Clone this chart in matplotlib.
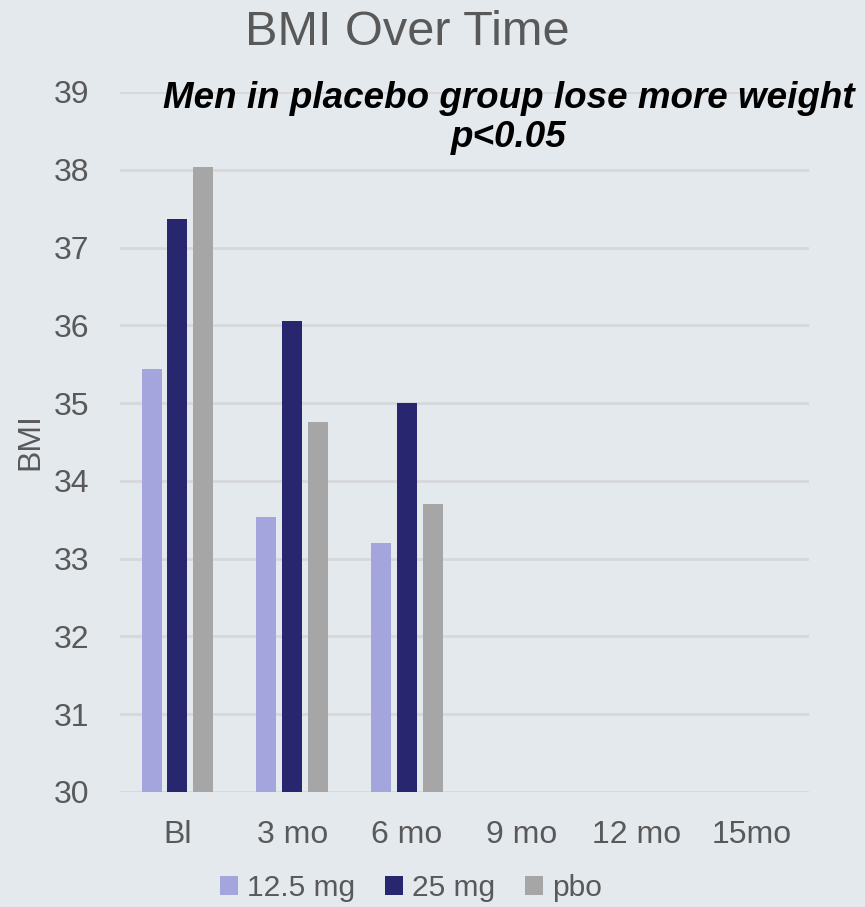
import numpy as np
import matplotlib.pyplot as plt

# BMI by visit for each dose group
visits = ['Bl', '3 mo', '6 mo', '9 mo', '12 mo', '15mo']
dose_12_5 = [35.44, 33.53, 33.20]
dose_25 = [37.37, 36.05, 35.00]
placebo = [38.04, 34.76, 33.70]

groups = ['12.5 mg', '25 mg', 'pbo']
colors = ['#A5A5DE', '#28266F', '#A6A6A6']
bg = '#E4E9EE'
text_grey = '#595959'

plt.rcParams['font.family'] = ['Liberation Sans', 'DejaVu Sans']

fig = plt.figure(figsize=(8.65, 9.07), dpi=100, facecolor=bg)
ax = fig.add_axes([0.1387, 0.1268, 0.7963, 0.7718], facecolor=bg)

x = np.arange(len(visits))
w = 0.174
step = 0.224
for i, (vals, lab, c) in enumerate(zip([dose_12_5, dose_25, placebo], groups, colors)):
    xs = x[:len(vals)] + (i - 1) * step
    ax.bar(xs, np.array(vals) - 30, width=w, bottom=30, color=c, label=lab, zorder=3)

ax.set_xlim(-0.5, len(visits) - 0.5)
ax.set_ylim(30, 39)
ax.set_yticks(range(30, 40))
ax.set_xticks(x)
ax.set_xticklabels(visits)
ax.tick_params(axis='both', length=0, labelsize=23, labelcolor=text_grey)
ax.tick_params(axis='x', pad=20)
ax.tick_params(axis='y', pad=22)
ax.grid(axis='y', color='#D6D8DB', linewidth=2, zorder=0)
for s in ax.spines.values():
    s.set_visible(False)

ax.set_ylabel('BMI', fontsize=23, color=text_grey, labelpad=6)

fig.text(0.471, 0.964, 'BMI Over Time', ha='center', va='center', fontsize=35, color=text_grey)
fig.text(0.588, 0.87, 'Men in placebo group lose more weight\np<0.05', ha='center', va='center',
         fontsize=26.5, fontweight='bold', fontstyle='italic', color='black', linespacing=1.15)

fig.legend(loc='center', bbox_to_anchor=(0.475, 0.021), ncol=3, frameon=False, fontsize=21.5,
           labelcolor=text_grey, handlelength=0.6, handleheight=0.6, handletextpad=0.3, columnspacing=1.0)

fig.savefig('out.png', dpi=100, facecolor=bg)
